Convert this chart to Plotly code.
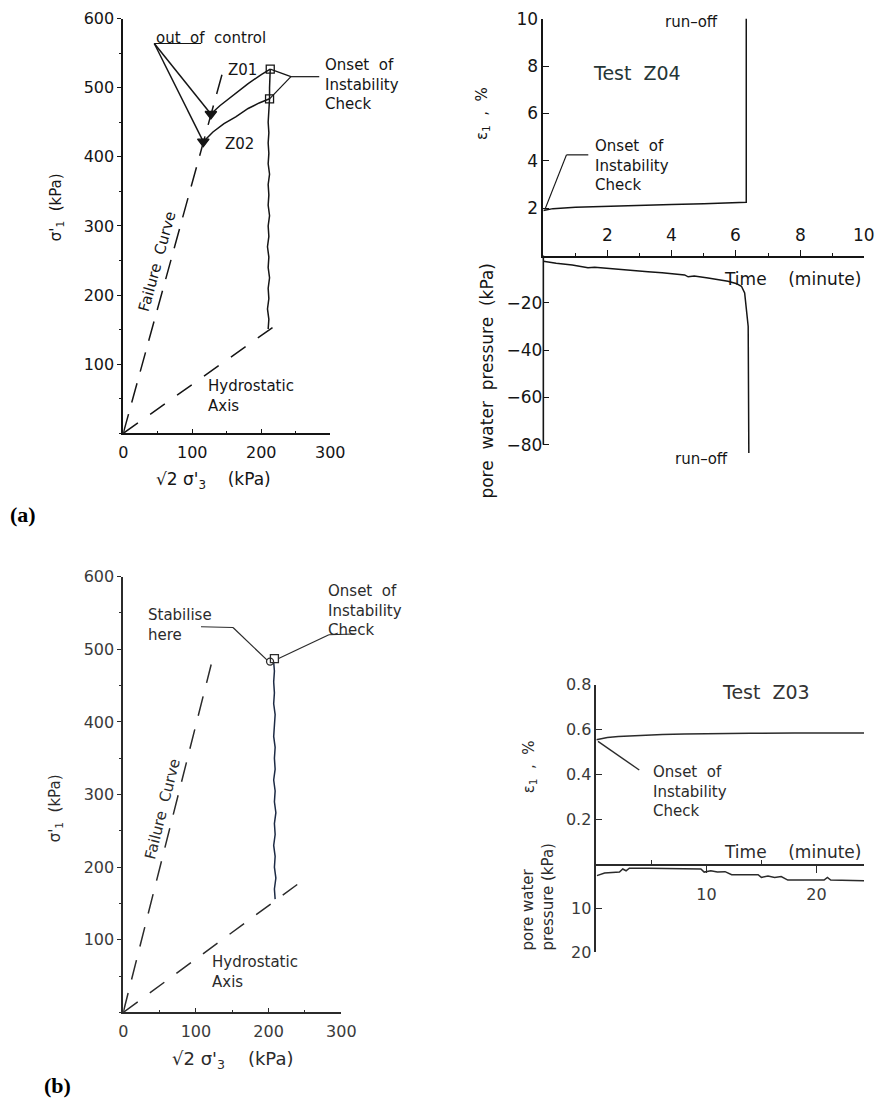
import plotly.graph_objects as go

W, H = 879, 1105
FONT = "DejaVu Sans"
INK = "#151515"
INK_B = "#2b2b2b"

# ---------------- (a) stress path, tests Z01 / Z02 ----------------
fail_a_x = [0, 145]
fail_a_y = [0, 526]
hydro_a_x = [0, 226]
hydro_a_y = [0, 160]
path_a_x = [210, 211, 209, 211, 210, 212, 210, 211, 209, 211, 210, 212, 210,
            211, 210, 212, 210, 211, 210, 211, 210, 211, 212, 212, 212, 213]
path_a_y = [151, 165, 180, 195, 210, 225, 240, 255, 270, 285, 300, 315, 330,
            345, 360, 375, 390, 405, 420, 435, 450, 465, 484, 500, 515, 527]
z01_x = [213, 200, 181, 165, 152, 140, 127]
z01_y = [527, 519, 506, 494, 484, 474, 462]
z02_x = [212, 197, 181, 163, 146, 130, 116]
z02_y = [484, 478, 470, 458, 448, 436, 422]
runaway_x = [45, 45]          # "out of control" end point (both tests)
runaway_y = [564, 564]
onset_a_x = [213, 212]
onset_a_y = [527, 484]

# ---------------- (a) test Z04 time histories ----------------
t_eps_a = [0, 0.3, 1, 2, 3, 4, 5, 6, 6.3, 6.32, 6.32]
eps_a = [1.9, 1.98, 2.04, 2.09, 2.13, 2.16, 2.19, 2.22, 2.24, 2.25, 10]
t_pwp_a = [0, 0.4, 0.9, 1.2, 1.39, 1.6, 2.0, 2.53, 3.26, 3.7, 4.09, 4.4, 4.51,
           4.7, 5.13, 5.75, 6.0, 6.17, 6.27, 6.32, 6.38, 6.40]
pwp_a = [-2.4, -3.3, -4.0, -4.6, -5.2, -4.9, -5.4, -6.2, -6.9, -7.3, -7.8, -8.2,
         -9.0, -8.7, -9.5, -10.9, -11.8, -13.0, -15.8, -21.5, -30.0, -83.6]
time_ticks_a = [2, 4, 6, 8, 10]

# ---------------- (b) stress path, test Z03 ----------------
fail_b_x = [0, 121]
fail_b_y = [0, 479]
hydro_b_x = [0, 246]
hydro_b_y = [0, 181]
path_b_x = [209, 208, 210, 208, 209, 207, 209, 208, 210, 208, 209, 207, 209,
            208, 209, 207, 208, 209, 207, 208, 207, 208, 207]
path_b_y = [156, 170, 185, 200, 215, 230, 245, 260, 275, 290, 305, 320, 335,
            350, 365, 380, 395, 410, 425, 440, 455, 470, 482]
onset_b_x = [208]
onset_b_y = [487]
stable_b_x = [202]
stable_b_y = [483]

# ---------------- (b) test Z03 time histories ----------------
t_eps_b = [0, 0.5, 1, 2, 3, 4, 6, 8, 10, 14, 18, 22, 24.5]
eps_b = [0.555, 0.561, 0.565, 0.569, 0.572, 0.574, 0.578, 0.581, 0.583, 0.584,
         0.585, 0.585, 0.585]
t_pwp_b = [0.05, 0.75, 2.1, 2.4, 2.7, 3.0, 4.7, 9.5, 9.8, 10.4, 11.0, 11.7, 12.3,
           14.7, 15.0, 15.6, 16.2, 16.8, 17.4, 20.7, 21.0, 21.3, 24.5]
pwp_b = [2.6, 2.0, 1.8, 1.1, 1.5, 0.9, 0.9, 1.1, 1.8, 1.5, 1.8, 1.7, 2.4,
         2.4, 3.0, 2.7, 3.0, 2.8, 3.6, 3.6, 3.0, 3.6, 3.8]

# ---------------- axes geometry (page pixel frame, value range) ----------------
AX = {
    "aL":  dict(x="x",  y="y",  xpx=(122, 329), xr=(0, 300), ypx=(434, 20),    yr=(0, 600)),
    "aRt": dict(x="x2", y="y2", xpx=(542, 863), xr=(0, 10),  ypx=(256.5, 20),  yr=(0, 10)),
    "aRb": dict(x="x3", y="y3", xpx=(542, 863), xr=(0, 10),  ypx=(457, 256.5), yr=(-85, 0)),
    "bL":  dict(x="x4", y="y4", xpx=(122, 340), xr=(0, 300), ypx=(1012, 577),  yr=(0, 600)),
    "bRt": dict(x="x5", y="y5", xpx=(595, 870), xr=(0, 25),  ypx=(864, 685),   yr=(0, 0.8)),
    "bRb": dict(x="x6", y="y6", xpx=(595, 870), xr=(0, 25),  ypx=(952, 864),   yr=(20, 0)),
}

# page frame -> plotly paper fraction (page is printed slightly reduced and offset)
SX, OX = 0.977, 3.8
SY, OY = 0.981, 10.4


def pp(xp, yp):
    X = (xp - OX) / SX
    Y = (yp - OY) / SY
    return X / W, 1 - Y / H


def to_paper(key, x, y):
    a = AX[key]
    fx = (x - a["xr"][0]) / (a["xr"][1] - a["xr"][0])
    fy = (y - a["yr"][0]) / (a["yr"][1] - a["yr"][0])
    xp = a["xpx"][0] + fx * (a["xpx"][1] - a["xpx"][0])
    yp = a["ypx"][0] + fy * (a["ypx"][1] - a["ypx"][0])
    return pp(xp, yp)


def domains(key):
    """axis domain in paper units; a domain running past the page edge is cut
    back to the edge and its value range shortened in proportion"""
    a = AX[key]
    x0, y0 = pp(a["xpx"][0], a["ypx"][0])
    x1, y1 = pp(a["xpx"][1], a["ypx"][1])
    xr = list(a["xr"])
    yr = list(a["yr"])
    if x1 > 1:
        xr[1] = xr[0] + (1 - x0) / (x1 - x0) * (xr[1] - xr[0])
        x1 = 1.0
    if y1 > 1:
        yr[1] = yr[0] + (1 - y0) / (y1 - y0) * (yr[1] - yr[0])
        y1 = 1.0
    if y0 < 0:
        yr[0] = yr[1] - (y1 - 0) / (y1 - y0) * (yr[1] - yr[0])
        y0 = 0.0
    return [max(x0, 0.0), x1], [y0, y1], xr, yr


fig = go.Figure()


def line(key, xs, ys, color=INK, width=1.5, dash=None):
    a = AX[key]
    fig.add_trace(go.Scatter(x=xs, y=ys, xaxis=a["x"], yaxis=a["y"], mode="lines",
                             line=dict(color=color, width=width, dash=dash),
                             showlegend=False, hoverinfo="skip"))


def marks(key, xs, ys, symbol, size, color=INK, width=1.3):
    a = AX[key]
    fig.add_trace(go.Scatter(x=xs, y=ys, xaxis=a["x"], yaxis=a["y"], mode="markers",
                             marker=dict(symbol=symbol, size=size, color=color,
                                         line=dict(color=color, width=width)),
                             showlegend=False, hoverinfo="skip", cliponaxis=False))


# (a) left
line("aL", fail_a_x, fail_a_y, dash="20px,12px")
line("aL", hydro_a_x, hydro_a_y, dash="18px,15px")
line("aL", path_a_x, path_a_y)
line("aL", z01_x, z01_y)
line("aL", z02_x, z02_y)
line("aL", [z01_x[-1], runaway_x[0]], [z01_y[-1], runaway_y[0]])
line("aL", [z02_x[-1], runaway_x[1]], [z02_y[-1], runaway_y[1]])
marks("aL", [z01_x[-1], z02_x[-1]], [z01_y[-1], z02_y[-1]], "triangle-down", 10)
marks("aL", onset_a_x, onset_a_y, "square-open", 8)

# (a) right
line("aRt", t_eps_a, eps_a)
line("aRb", t_pwp_a, pwp_a)

# (b) left
line("bL", fail_b_x, fail_b_y, color=INK_B, dash="20px,14px")
line("bL", hydro_b_x, hydro_b_y, color=INK_B, dash="18px,15px")
line("bL", path_b_x, path_b_y, color="#1c2a44")
marks("bL", onset_b_x, onset_b_y, "square-open", 8, color=INK_B)
marks("bL", stable_b_x, stable_b_y, "circle-open", 7, color=INK_B)

# (b) right
line("bRt", t_eps_b, eps_b, color=INK_B)
line("bRb", t_pwp_b, pwp_b, color=INK_B)

# ---------------- axes ----------------
tickfont = dict(family=FONT, size=16, color=INK)
tickfont_r = dict(family=FONT, size=17, color=INK)
tickfont_b = dict(family=FONT, size=16, color="#3a3a3a")
base = dict(showgrid=False, zeroline=False, showline=True, linecolor=INK, linewidth=1.6,
            tickcolor=INK, tickwidth=1.4, fixedrange=True)

layout_axes = {}
xd, yd, xr, yr = domains("aL")
layout_axes["xaxis"] = dict(base, domain=xd, range=xr, anchor="y", dtick=100, tick0=0,
                            ticks="inside", ticklen=5, tickfont=tickfont, ticklabelstandoff=4,
                            minor=dict(dtick=50, tick0=0, ticks="inside", ticklen=3, tickcolor=INK))
layout_axes["yaxis"] = dict(base, domain=yd, range=yr, anchor="x",
                            ticks="outside", ticklen=4, tickfont=tickfont,
                            tickvals=[100, 200, 300, 400, 500, 600],
                            minor=dict(dtick=50, tick0=0, ticks="outside", ticklen=2, tickcolor=INK))

xd, yd, xr, yr = domains("aRt")
layout_axes["xaxis2"] = dict(base, domain=xd, range=xr, anchor="y2",
                             tickvals=time_ticks_a, ticks="inside", ticklen=6,
                             showticklabels=False,
                             minor=dict(tickvals=[1, 3, 5, 7, 9], ticks="inside", ticklen=3, tickcolor=INK))
layout_axes["yaxis2"] = dict(base, domain=yd, range=yr, anchor="x2",
                             tickvals=[2, 4, 6, 8, 10], ticks="inside", ticklen=6, tickfont=tickfont_r)
xd, yd, xr, yr = domains("aRb")
layout_axes["xaxis3"] = dict(base, domain=xd, range=xr, anchor="y3", visible=False)
layout_axes["yaxis3"] = dict(base, domain=yd, range=yr, anchor="x3", showline=False,
                             tickvals=[-20, -40, -60, -80],
                             ticktext=["\u221220", "\u221240", "\u221260", "\u221280"],
                             ticks="inside", ticklen=6, tickfont=tickfont_r)

baseb = dict(base, linecolor=INK_B, tickcolor=INK_B)
xd, yd, xr, yr = domains("bL")
layout_axes["xaxis4"] = dict(baseb, domain=xd, range=xr, anchor="y4", dtick=100, tick0=0,
                             ticks="inside", ticklen=5, tickfont=tickfont_b, ticklabelstandoff=4,
                             minor=dict(dtick=50, tick0=0, ticks="inside", ticklen=3, tickcolor=INK_B))
layout_axes["yaxis4"] = dict(baseb, domain=yd, range=yr, anchor="x4",
                             tickvals=[100, 200, 300, 400, 500, 600],
                             ticks="outside", ticklen=4, tickfont=tickfont_b,
                             minor=dict(dtick=50, tick0=0, ticks="outside", ticklen=2, tickcolor=INK_B))

xd, yd, xr, yr = domains("bRt")
layout_axes["xaxis5"] = dict(baseb, domain=xd, range=xr, anchor="y5",
                             tickvals=[10, 20], ticks="outside", ticklen=7, tickfont=tickfont_b,
                             ticklabelstandoff=8,
                             minor=dict(tickvals=[5, 15], ticks="inside", ticklen=4, tickcolor=INK_B))
layout_axes["yaxis5"] = dict(baseb, domain=yd, range=yr, anchor="x5",
                             tickvals=[0.2, 0.4, 0.6, 0.8], ticktext=["0.2", "0.4", "0.6", "0.8"],
                             ticks="inside", ticklen=6, tickfont=tickfont_b)
xd, yd, xr, yr = domains("bRb")
layout_axes["xaxis6"] = dict(baseb, domain=xd, range=xr, anchor="y6", visible=False)
layout_axes["yaxis6"] = dict(baseb, domain=yd, range=yr, anchor="x6",
                             tickvals=[10, 20], ticks="inside", ticklen=6, tickfont=tickfont_b)

# ---------------- leader lines ----------------
shapes = []


def leader(key, pts, color=INK, width=1.2):
    for (x0, y0), (x1, y1) in zip(pts[:-1], pts[1:]):
        X0, Y0 = to_paper(key, x0, y0)
        X1, Y1 = to_paper(key, x1, y1)
        shapes.append(dict(type="line", xref="paper", yref="paper", x0=X0, y0=Y0, x1=X1, y1=Y1,
                           line=dict(color=color, width=width)))


leader("aL", [(onset_a_x[0], onset_a_y[0]), (243, 516), (284, 516)])
leader("aL", [(onset_a_x[1], onset_a_y[1]), (243, 516)])
leader("aL", [(runaway_x[0], runaway_y[0]), (113, 564)])
leader("aRt", [(0.05, 1.95), (0.72, 4.25), (1.4, 4.25)])
leader("bL", [(107, 531), (151, 530), (stable_b_x[0] - 4, stable_b_y[0] + 2)], color=INK_B)
leader("bL", [(onset_b_x[0] + 5, onset_b_y[0]), (283, 520), (318, 521)], color=INK_B)
leader("bRt", [(0.15, 0.548), (3.9, 0.42)], color=INK_B, width=1.4)
# lower ordinate of the Z04 record, drawn down to -80 only
leader("aRb", [(0, 0), (0, -80)], width=1.6)

# ---------------- annotations ----------------
ann = []


def text(key, x, y, s, size=15, xanchor="left", yanchor="middle", angle=0, color=INK,
         align="left", family=FONT):
    X, Y = to_paper(key, x, y) if key else pp(x, y)
    ann.append(dict(x=X, y=Y, xref="paper", yref="paper", text=s, showarrow=False,
                    xanchor=xanchor, yanchor=yanchor, textangle=angle, align=align,
                    font=dict(family=family, size=size, color=color)))


ON = "Onset\u00a0 of<br>Instability<br>Check"
# (a) left
text("aL", 45, 572, "out\u00a0 of\u00a0 control", size=15)
text("aL", 149, 525, "Z01", size=15)
text("aL", 145, 418, "Z02", size=15)
text("aL", 290, 505, ON, size=15)
text("aL", 49, 248, "Failure\u00a0 Curve", size=15, xanchor="center", angle=-74.6)
text("aL", 120, 54, "Hydrostatic<br>Axis", size=15)
text(None, 56, 208, "\u03c3'<sub>1</sub>\u00a0 (kPa)", size=15, xanchor="center", angle=-90)
text(None, 212, 481, "\u221a2 \u03c3'<sub>3</sub>\u00a0\u00a0\u00a0 (kPa)", size=17, xanchor="center")
text(None, 7, 515, "<b>(a)</b>", size=22, family="Liberation Serif", color="#000")

# (a) right
text("aRt", 4.61, 9.85, "run\u2013off", size=15, xanchor="center")
text("aRt", 2.93, 7.7, "Test\u00a0 Z04", size=19, xanchor="center", color="#263636")
text("aRt", 1.56, 3.78, ON, size=15)
for tv in time_ticks_a:
    text("aRt", tv, 0.87, str(tv), size=17, xanchor="center")
text(None, 862, 280, "Time\u00a0\u00a0\u00a0 (minute)", size=17, xanchor="right")
text("aRb", 4.92, -86.0, "run\u2013off", size=15, xanchor="center")
text(None, 481, 115, "\u03b5<sub>1</sub>\u00a0 ,\u00a0 %", size=15, xanchor="center", angle=-90)
text(None, 486, 381, "pore\u00a0 water\u00a0 pressure\u00a0 (kPa)", size=17, xanchor="center",
     angle=-90)

# (b) left
text("bL", 32, 533, "Stabilise<br>here", size=15, color=INK_B)
text("bL", 279, 553, ON, size=15, color=INK_B)
text("bL", 54, 280, "Failure\u00a0 Curve", size=15, xanchor="center", angle=-75.8, color=INK_B)
text("bL", 120, 55, "Hydrostatic<br>Axis", size=15, color=INK_B)
text(None, 54, 808, "\u03c3'<sub>1</sub>\u00a0 (kPa)", size=15, xanchor="center", angle=-90, color=INK_B)
text(None, 231, 1059, "\u221a2 \u03c3'<sub>3</sub>\u00a0\u00a0\u00a0 (kPa)", size=18, xanchor="center", color=INK_B)
text(None, 41, 1085, "<b>(b)</b>", size=22, family="Liberation Serif", color="#000")

# (b) right
text("bRt", 15.45, 0.768, "Test\u00a0 Z03", size=19, xanchor="center", color="#333")
text("bRt", 5.0, 0.326, ON, size=15, color=INK_B)
text(None, 862, 852, "Time\u00a0\u00a0\u00a0 (minute)", size=17, xanchor="right", color=INK_B)
text(None, 529, 767, "\u03b5<sub>1</sub>\u00a0 ,\u00a0 %", size=15, xanchor="center", angle=-90, color=INK_B)
text(None, 537, 896, "pore water<br>pressure (kPa)", size=15, xanchor="center", angle=-90,
     color=INK_B)

fig.update_layout(
    width=W, height=H, margin=dict(l=0, r=0, t=0, b=0),
    paper_bgcolor="white", plot_bgcolor="rgba(0,0,0,0)",
    showlegend=False, shapes=shapes, annotations=ann,
    font=dict(family=FONT, color=INK),
    **layout_axes,
)

fig.write_html("out.html")
